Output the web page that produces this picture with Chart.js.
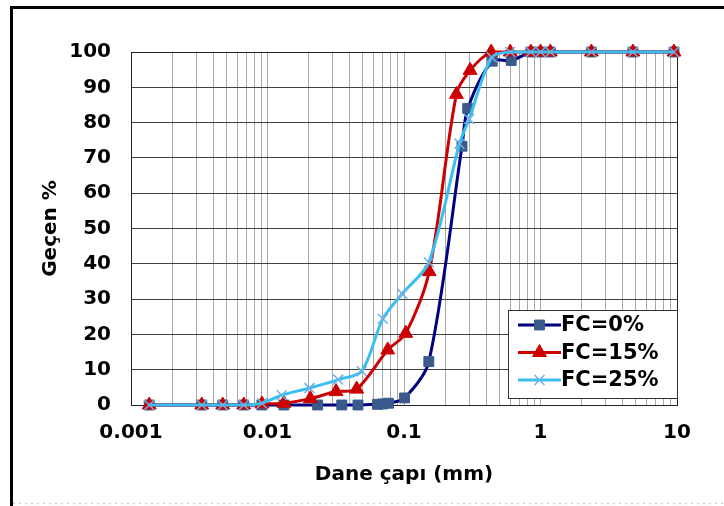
<!doctype html>
<html lang="tr">
<head>
  <meta charset="utf-8">
  <title>Dane çapı dağılımı</title>
  <style>
    html, body { margin: 0; padding: 0; background: #fff; }
    #wrap { width: 724px; height: 506px; position: relative; }
  </style>
</head>
<body>
  <div id="wrap"><canvas id="myChart" width="724" height="506"></canvas></div>

  <script src="https://cdn.jsdelivr.net/npm/chart.js@4.4.1/dist/chart.umd.min.js"></script>
  <script>
  // sieve / hydrometer sizes (mm) and percent passing for each fines content
  const sizes0  = [0.00136, 0.0033, 0.0047, 0.0067, 0.0091, 0.0132, 0.0233, 0.035, 0.046, 0.064, 0.070, 0.077, 0.101, 0.152, 0.266, 0.293, 0.443, 0.61, 0.85, 1.0, 1.18, 2.36, 4.75, 9.5];
  const pass0   = [0, 0, 0, 0, 0, 0, 0, 0, 0, 0.2, 0.3, 0.5, 2, 12.3, 73.3, 84, 97.4, 97.6, 100, 100, 100, 100, 100, 100];

  const sizes15 = [0.00136, 0.0033, 0.0047, 0.0067, 0.0091, 0.0132, 0.0206, 0.0318, 0.045, 0.076, 0.103, 0.153, 0.242, 0.305, 0.435, 0.60, 0.85, 1.0, 1.18, 2.36, 4.75, 9.5];
  const pass15  = [0, 0, 0, 0, 0.3, 0.5, 1.8, 3.8, 4.5, 15.6, 20.3, 37.8, 88, 94.8, 100, 100, 100, 100, 100, 100, 100, 100];

  const sizes25 = [0.00136, 0.0033, 0.0047, 0.0067, 0.0091, 0.0127, 0.0203, 0.033, 0.049, 0.070, 0.097, 0.152, 0.255, 0.30, 0.44, 0.60, 0.85, 1.0, 1.18, 2.36, 4.75, 9.5];
  const pass25  = [0, 0, 0, 0, 0.5, 2.8, 4.8, 7.2, 9.6, 24.4, 31.5, 40.4, 74, 81, 98.5, 100, 100, 100, 100, 100, 100, 100];

  const seriesNames = ['FC=0%', 'FC=15%', 'FC=25%'];
  const xTickLabels = ['0.001', '0.01', '0.1', '1', '10'];
  const yTicks = [0, 10, 20, 30, 40, 50, 60, 70, 80, 90, 100];

  const FONT = "'DejaVu Sans', Arial, sans-serif";
  const colors = ['#000080', '#cc0000', '#3bbfee'];
  const markerFill = ['#3a5a8c', '#cc0000', '#8fc8f0'];
  const markerStyle = ['rect', 'triangle', 'crossRot'];
  const markerSize = [7, 8, 7];

  function toPoints(xs, ys) {
    return xs.map((x, i) => ({ x: x, y: ys[i] }));
  }

  const allSizes = [sizes0, sizes15, sizes25];
  const allPass = [pass0, pass15, pass25];

  const datasets = seriesNames.map((name, i) => ({
    label: name,
    data: toPoints(allSizes[i], allPass[i]),
    borderColor: colors[i],
    backgroundColor: markerFill[i],
    pointBorderColor: i === 2 ? '#6fb0e6' : markerFill[i],
    pointBackgroundColor: markerFill[i],
    pointStyle: markerStyle[i],
    pointRadius: markerSize[i],
    pointBorderWidth: i === 2 ? 1.5 : 1,
    borderWidth: 3,
    tension: 0.3,
    clip: false,
    order: 3 - i,
  }));

  // white page + frame lines
  const framePlugin = {
    id: 'frame',
    beforeDraw(chart) {
      const ctx = chart.ctx;
      ctx.save();
      ctx.fillStyle = '#fff';
      ctx.fillRect(0, 0, chart.width, chart.height);
      ctx.restore();
    },
    beforeDatasetsDraw(chart) {
      const a = chart.chartArea, ctx = chart.ctx;
      ctx.save();
      ctx.strokeStyle = '#222';
      ctx.lineWidth = 1;
      ctx.strokeRect(a.left + 0.5, a.top + 0.5, a.right - a.left, a.bottom - a.top);
      ctx.restore();
    },
    afterDraw(chart) {
      const ctx = chart.ctx;
      ctx.save();
      ctx.fillStyle = '#000';
      ctx.fillRect(10, 6, chart.width - 10, 3);
      ctx.fillRect(10, 6, 3, chart.height - 6);
      ctx.strokeStyle = '#cccccc';
      ctx.setLineDash([2, 4]);
      ctx.beginPath();
      ctx.moveTo(13, 503.5);
      ctx.lineTo(chart.width, 503.5);
      ctx.stroke();
      ctx.restore();
    }
  };

  // legend inside the plot, bottom right
  const insideLegend = {
    id: 'insideLegend',
    afterDraw(chart) {
      const ctx = chart.ctx;
      const a = chart.chartArea;
      const bx = 508, by = 310, bw = a.right - 508, bh = 88;
      ctx.save();
      ctx.fillStyle = '#fff';
      ctx.fillRect(bx, by, bw, bh);
      ctx.strokeStyle = '#333';
      ctx.lineWidth = 1;
      ctx.strokeRect(bx + 0.5, by + 0.5, bw, bh);
      chart.data.datasets.forEach((ds, i) => {
        const y = 325 + i * 27.5;
        ctx.strokeStyle = ds.borderColor;
        ctx.lineWidth = 3;
        ctx.beginPath();
        ctx.moveTo(518, y);
        ctx.lineTo(561, y);
        ctx.stroke();
        ctx.fillStyle = ds.pointBackgroundColor;
        ctx.strokeStyle = ds.pointBorderColor;
        ctx.lineWidth = ds.pointBorderWidth;
        Chart.helpers.drawPoint(ctx, { pointStyle: ds.pointStyle, radius: ds.pointRadius, borderWidth: ds.pointBorderWidth }, 539.5, y);
        ctx.fillStyle = '#000';
        ctx.font = 'bold 21px ' + FONT;
        ctx.textBaseline = 'middle';
        ctx.textAlign = 'left';
        ctx.fillText(ds.label, 561, y + 1);
      });
      ctx.restore();
    }
  };

  const ctx = document.getElementById('myChart').getContext('2d');
  const chart = new Chart(ctx, {
    type: 'line',
    data: { datasets: datasets },
    plugins: [framePlugin, insideLegend],
    options: {
      responsive: false,
      animation: false,
      layout: { padding: { left: 0, top: 52, right: 47, bottom: 0 } },
      plugins: {
        legend: { display: false },
        tooltip: { enabled: false },
      },
      scales: {
        x: {
          type: 'logarithmic',
          min: 0.001,
          max: 10,
          afterBuildTicks(scale) {
            const t = [];
            for (let e = -3; e <= 0; e++) {
              for (let m = 1; m <= 9; m++) t.push({ value: +(m * Math.pow(10, e)).toPrecision(6) });
            }
            t.push({ value: 10 });
            scale.ticks = t;
          },
          afterFit(scale) { scale.height = 101; },
          ticks: {
            autoSkip: false,
            maxRotation: 0,
            padding: 16,
            color: '#000',
            font: { family: FONT, size: 20, weight: 'bold' },
            callback(value) {
              const lg = Math.log10(value);
              if (Math.abs(lg - Math.round(lg)) < 1e-9) return xTickLabels[Math.round(lg) + 3];
              return '';
            }
          },
          grid: { color: '#a8a8a8', lineWidth: 1, drawTicks: false },
          border: { color: '#000', width: 1 },
          title: {
            display: true,
            text: 'Dane çapı (mm)',
            color: '#000',
            font: { family: FONT, size: 20, weight: 'bold' },
            padding: { top: 0, bottom: 19 }
          }
        },
        y: {
          min: 0,
          max: 100,
          afterBuildTicks(scale) { scale.ticks = yTicks.map(v => ({ value: v })); },
          afterFit(scale) { scale.width = 131; },
          ticks: {
            padding: 20,
            color: '#000',
            font: { family: FONT, size: 20, weight: 'bold' },
          },
          grid: { color: '#404040', lineWidth: 1, drawTicks: false },
          border: { color: '#000', width: 1 },
          title: {
            display: true,
            text: 'Geçen %',
            color: '#000',
            font: { family: FONT, size: 20, weight: 'bold' },
            padding: { top: 39, bottom: 0 }
          }
        }
      }
    }
  });
  </script>
</body>
</html>
